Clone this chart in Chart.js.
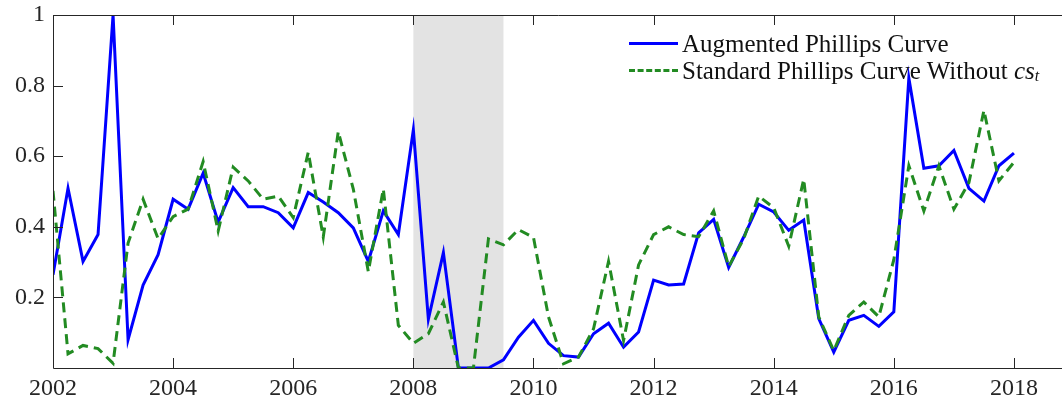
<!DOCTYPE html>
<html>
<head>
<meta charset="utf-8">
<script src="https://cdn.jsdelivr.net/npm/chart.js@4"></script>
<style>
  html, body { margin: 0; padding: 0; background: #fff; }
  #wrap { position: relative; width: 1062px; height: 400px; }
  #legend {
    position: absolute; left: 629px; top: 30px;
    font-family: "Liberation Serif", serif; font-size: 25px; color: #111;
    line-height: 27px;
  }
  #legend .row { display: flex; align-items: center; white-space: nowrap; }
  #legend .swatch { width: 49px; height: 0; margin-right: 4px; }
  #legend sub { font-size: 16px; font-style: italic; position: relative; top: 5px; }
</style>
</head>
<body>
<div id="wrap">
  <canvas id="chart" width="1062" height="400"></canvas>
  <div id="legend">
    <div class="row"><span class="swatch" style="border-top:3px solid #0000ff"></span>Augmented Phillips Curve</div>
    <div class="row"><span class="swatch" style="border-top:3px dashed #228b22"></span>Standard Phillips Curve Without&nbsp;<i>cs</i><sub>t</sub></div>
  </div>
</div>
<script>
// quarterly series, 2002Q1 .. 2018Q1
var startYear = 2002;
var augmented = [
    0.264, 0.509, 0.302, 0.378, 1.0, 0.08, 0.235, 0.321,
    0.478, 0.45, 0.552, 0.413, 0.511, 0.457, 0.457, 0.44,
    0.397, 0.497, 0.47, 0.44, 0.397, 0.302, 0.445, 0.378,
    0.675, 0.138, 0.327, 0.0, 0.0, 0.0, 0.023, 0.087,
    0.135, 0.07, 0.035, 0.031, 0.097, 0.127, 0.059, 0.102,
    0.249, 0.235, 0.238, 0.383, 0.421, 0.285, 0.371, 0.464,
    0.442, 0.39, 0.419, 0.14, 0.045, 0.135, 0.149, 0.118,
    0.159, 0.821, 0.566, 0.573, 0.616, 0.509, 0.473, 0.573,
    0.609
];
var standard = [
    0.502, 0.04, 0.064, 0.055, 0.013, 0.354, 0.478, 0.366,
    0.429, 0.45, 0.585, 0.388, 0.569, 0.53, 0.478, 0.487,
    0.426, 0.611, 0.371, 0.67, 0.507, 0.273, 0.507, 0.121,
    0.07, 0.097, 0.187, 0.0, 0.0, 0.366, 0.349, 0.392,
    0.37, 0.145, 0.012, 0.031, 0.111, 0.302, 0.078, 0.292,
    0.378, 0.4, 0.378, 0.372, 0.445, 0.287, 0.366, 0.487,
    0.454, 0.345, 0.535, 0.145, 0.049, 0.149, 0.187, 0.145,
    0.307, 0.573, 0.445, 0.573, 0.45, 0.525, 0.73, 0.53,
    0.583
];
var xTicks = [2002, 2004, 2006, 2008, 2010, 2012, 2014, 2016, 2018];
var yTicks = [0.2, 0.4, 0.6, 0.8, 1];
var recession = [2008, 2009.5];

function toPoints(arr) {
    return arr.map(function (v, i) { return { x: startYear + i / 4, y: v }; });
}

var frameColor = '#262626';

// grey recession band, drawn under the lines
var shadePlugin = {
    id: 'shade',
    beforeDatasetsDraw: function (chart) {
        var ctx = chart.ctx, a = chart.chartArea, xs = chart.scales.x;
        var x0 = xs.getPixelForValue(recession[0]);
        var x1 = xs.getPixelForValue(recession[1]);
        ctx.save();
        ctx.fillStyle = '#e3e3e3';
        ctx.fillRect(x0, a.top, x1 - x0, a.bottom - a.top);
        ctx.restore();
    }
};

// box and inward ticks, matlab style
var framePlugin = {
    id: 'frame',
    afterDatasetsDraw: function (chart) {
        var ctx = chart.ctx, a = chart.chartArea;
        var xs = chart.scales.x, ys = chart.scales.y;
        var len = 10;
        ctx.save();
        ctx.strokeStyle = frameColor;
        ctx.lineWidth = 1;
        ctx.beginPath();
        ctx.moveTo(a.right + 2, a.top + 0.5);
        ctx.lineTo(a.left + 0.5, a.top + 0.5);
        ctx.lineTo(a.left + 0.5, a.bottom + 0.5);
        ctx.lineTo(a.right + 2, a.bottom + 0.5);
        xTicks.forEach(function (t) {
            var px = Math.round(xs.getPixelForValue(t)) + 0.5;
            ctx.moveTo(px, a.bottom);
            ctx.lineTo(px, a.bottom - len);
            ctx.moveTo(px, a.top);
            ctx.lineTo(px, a.top + len);
        });
        yTicks.forEach(function (t) {
            var py = Math.round(ys.getPixelForValue(t)) + 0.5;
            ctx.moveTo(a.left, py);
            ctx.lineTo(a.left + len, py);
        });
        ctx.stroke();
        ctx.restore();
    }
};

var ctx = document.getElementById('chart');
var myChart = new Chart(ctx, {
    type: 'line',
    data: {
        datasets: [{
            label: 'Augmented Phillips Curve',
            data: toPoints(augmented),
            borderColor: '#0000ff',
            borderWidth: 3,
            pointRadius: 0,
            tension: 0,
            order: 2
        }, {
            label: 'Standard Phillips Curve Without cs_t',
            data: toPoints(standard),
            borderColor: '#228b22',
            borderWidth: 3,
            borderDash: [10, 6],
            pointRadius: 0,
            tension: 0,
            order: 1
        }]
    },
    plugins: [shadePlugin, framePlugin],
    options: {
        responsive: false,
        animation: false,
        layout: { padding: { top: 15, right: 0, left: 0, bottom: 0 } },
        plugins: {
            legend: { display: false },
            tooltip: { enabled: false }
        },
        scales: {
            x: {
                type: 'linear',
                min: 2002,
                max: 2018.8,
                grid: { display: false, drawTicks: false },
                border: { display: false },
                afterFit: function (scale) {
                    scale.height = 32;
                    scale.paddingLeft = 0;
                    scale.paddingRight = 0;
                },
                afterBuildTicks: function (scale) {
                    scale.ticks = xTicks.map(function (v) { return { value: v }; });
                },
                ticks: {
                    padding: 6,
                    color: frameColor,
                    font: { family: 'Liberation Serif', size: 24 },
                    maxRotation: 0,
                    autoSkip: false,
                    callback: function (v) { return String(v); }
                }
            },
            y: {
                min: 0,
                max: 1,
                grid: { display: false, drawTicks: false },
                border: { display: false },
                afterFit: function (scale) {
                    scale.width = 53;
                    scale.paddingTop = 0;
                    scale.paddingBottom = 0;
                },
                afterBuildTicks: function (scale) {
                    scale.ticks = yTicks.map(function (v) { return { value: v }; });
                },
                ticks: {
                    padding: 8,
                    color: frameColor,
                    font: { family: 'Liberation Serif', size: 24 },
                    callback: function (v) { return String(v); }
                }
            }
        }
    }
});
</script>
</body>
</html>
